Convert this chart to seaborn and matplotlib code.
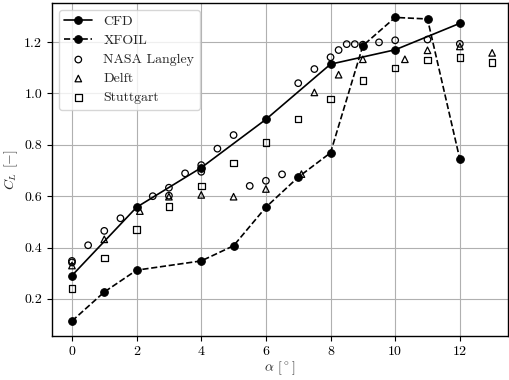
import matplotlib
matplotlib.use("Agg")
import matplotlib.pyplot as plt
import seaborn as sns
import pandas as pd

cfd_alpha = [0, 2, 4, 6, 8, 10, 12]
cfd_cl = [0.291, 0.557, 0.711, 0.899, 1.114, 1.170, 1.273]

xfoil_alpha = [0, 1, 2, 4, 5, 6, 7, 8, 9, 10, 11, 12]
xfoil_cl = [0.114, 0.227, 0.312, 0.348, 0.407, 0.557, 0.674, 0.769, 1.186, 1.296, 1.290, 0.744]

nasa_alpha = [0, 0, 0.5, 1, 1.5, 2.5, 3, 3, 3.5, 4, 4, 4.5, 5, 5.5, 6, 6.5,
              7, 7.5, 8, 8.25, 8.5, 8.75, 9, 9.5, 10, 11, 12]
nasa_cl = [0.348, 0.342, 0.409, 0.465, 0.514, 0.600, 0.633, 0.602, 0.689, 0.721, 0.695,
           0.785, 0.838, 0.640, 0.660, 0.685, 1.040, 1.095, 1.141, 1.169, 1.192, 1.192,
           1.190, 1.199, 1.207, 1.210, 1.193]

delft_alpha = [0, 1, 2.1, 3, 4, 5, 6, 7.1, 7.5, 8.25, 9, 10.3, 11, 12, 13]
delft_cl = [0.330, 0.432, 0.542, 0.598, 0.605, 0.598, 0.628, 0.686, 1.004, 1.073,
            1.133, 1.133, 1.168, 1.183, 1.158]

stutt_alpha = [0, 1, 2, 3, 4, 5, 6, 7, 8, 9, 10, 11, 12, 13]
stutt_cl = [0.240, 0.360, 0.470, 0.559, 0.640, 0.730, 0.810, 0.900, 0.979, 1.051,
            1.099, 1.130, 1.139, 1.120]

xticks = [0, 2, 4, 6, 8, 10, 12]
yticks = [0.2, 0.4, 0.6, 0.8, 1.0, 1.2]

sns.set_theme(style="ticks")
plt.rcParams.update({
    "font.family": "serif",
    "font.serif": ["cmr10"],
    "mathtext.fontset": "cm",
    "axes.formatter.use_mathtext": True,
    "axes.unicode_minus": False,
    "font.size": 10,
})

fig = plt.figure(figsize=(5.09, 3.80), dpi=100)
ax = fig.add_axes([0.102, 0.116, 0.896, 0.876])

cfd = pd.DataFrame({"alpha": cfd_alpha, "cl": cfd_cl})
xf = pd.DataFrame({"alpha": xfoil_alpha, "cl": xfoil_cl})
nasa = pd.DataFrame({"alpha": nasa_alpha, "cl": nasa_cl})
delft = pd.DataFrame({"alpha": delft_alpha, "cl": delft_cl})
stutt = pd.DataFrame({"alpha": stutt_alpha, "cl": stutt_cl})

sns.lineplot(data=cfd, x="alpha", y="cl", ax=ax, color="black", lw=1.2,
             marker="o", markersize=5.5, markeredgecolor="black", label="CFD", zorder=3)
sns.lineplot(data=xf, x="alpha", y="cl", ax=ax, color="black", lw=1.2, linestyle="--",
             marker="o", markersize=5.5, markeredgecolor="black", label="XFOIL", zorder=3)
sns.scatterplot(data=nasa, x="alpha", y="cl", ax=ax, marker="o", s=22,
                facecolor="none", edgecolor="black", linewidth=0.9, label="NASA Langley", zorder=4)
sns.scatterplot(data=delft, x="alpha", y="cl", ax=ax, marker="^", s=22,
                facecolor="none", edgecolor="black", linewidth=0.9, label="Delft", zorder=4)
sns.scatterplot(data=stutt, x="alpha", y="cl", ax=ax, marker="s", s=22,
                facecolor="none", edgecolor="black", linewidth=0.9, label="Stuttgart", zorder=4)

ax.set_xlim(-0.62, 13.49)
ax.set_ylim(0.056, 1.352)
ax.set_xticks(xticks)
ax.set_yticks(yticks)
ax.set_xticklabels([str(t) for t in xticks])
ax.set_yticklabels([f"{t:.1f}" for t in yticks])
ax.grid(True, color="#b0b0b0", lw=0.8)
ax.set_axisbelow(True)
for s in ax.spines.values():
    s.set_color("black")
    s.set_linewidth(1.0)
ax.tick_params(direction="out", length=3.5, width=0.8, colors="black", labelsize=10)

ax.set_xlabel(r"$\alpha$ $[^\circ]$", fontsize=10, labelpad=1)
ax.set_ylabel(r"$C_L$ $[-]$", fontsize=10, labelpad=3)

leg = ax.legend(loc="upper left", fontsize=10, frameon=True, fancybox=True,
                framealpha=0.8, edgecolor="#cccccc", borderpad=0.4, labelspacing=0.45,
                handlelength=2.0)

fig.savefig("out.png", dpi=100)
